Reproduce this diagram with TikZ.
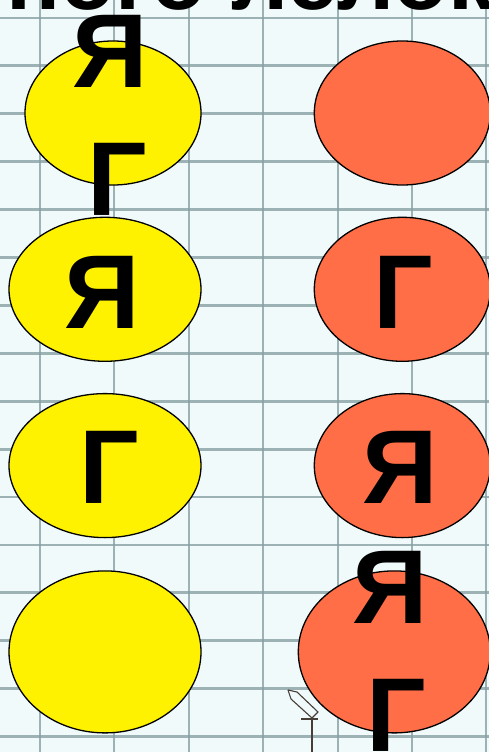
\documentclass[tikz,border=0pt]{standalone}
\usepackage{fontspec}
\setmainfont{Liberation Sans}
\usetikzlibrary{positioning, shapes.geometric}
\definecolor{paper}{RGB}{240,250,250}
\definecolor{gridblue}{RGB}{135,160,164}
\definecolor{coral}{RGB}{255,110,70}
\definecolor{cursorgray}{RGB}{70,62,55}
\tikzset{
    cards/.style={x=1pt, y=1pt},
    gridline/.style={gridblue, line width=2.8pt, opacity=0.8},
    blob/.style={draw, ellipse, line width=1.3pt, inner sep=0pt, minimum width=176pt, minimum height=144pt},
    yelblob/.style={blob, fill=yellow},
    redblob/.style={blob, fill=coral},
    bigblob/.style={minimum width=192pt, minimum height=162pt},
    % letters sit on their baseline at the given point
    glyph/.style={anchor=base, inner sep=0pt, font=\fontsize{105}{105}\selectfont\bfseries},
    headline/.style={anchor=base, inner sep=0pt, font=\fontsize{90}{90}\selectfont\bfseries},
}
\begin{document}
\begin{tikzpicture}[cards]
    \useasboundingbox (0,0) rectangle (489,-752);
    \clip (0,0) rectangle (489,-752);
    \fill[paper] (0,0) rectangle (489,-752);

    % squared paper
    \foreach \gx in {40,114,189,263,338,412,486}
        \draw[gridline] (\gx,0) -- (\gx,-752);
    \foreach \k in {0,...,15}
        \draw[gridline] (0,{-18-47.9*\k}) -- (489,{-18-47.9*\k});

    \node[headline] (title) at (250,-10) {ного лелок};

    \node[yelblob]                                   (yel1) at (113,-113) {};
    \node[yelblob, minimum width=192pt, below=31pt of yel1, xshift=-8pt] (yel2) {};
    \node[yelblob, minimum width=192pt, below=31pt of yel2] (yel3) {};
    \node[yelblob, bigblob, below=32pt of yel3]      (yel4) {};

    \node[redblob, right=112pt of yel1]          (red1) {};
    \node[redblob, right=112pt of yel2]          (red2) {};
    \node[redblob, right=112pt of yel3]          (red3) {};
    \node[redblob, bigblob, right=96pt of yel4]  (red4) {};

    \node[glyph] (yel1ya) at (110,-87)  {Я};
    \node[glyph] (yel1ge) at (117,-215) {Г};
    \node[glyph] (yel2ya) at (102,-328) {Я};
    \node[glyph] (yel3ge) at (109,-503) {Г};
    \node[glyph] (red2ge) at (403,-328) {Г};
    \node[glyph] (red3ya) at (400,-503) {Я};
    \node[glyph] (red4ya) at (390,-623) {Я};
    \node[glyph] (red4ge) at (396,-751) {Г};

    % pencil cursor
    \coordinate (tip) at (288,-690);
    \draw[cursorgray, line width=1.1pt, line join=round]
        (tip) -- (297,-692) -- (318,-712) -- (312,-718) -- (291,-699) -- cycle;
    \draw[cursorgray, line width=1.1pt] (301,-719) -- (318,-719);
    \draw[cursorgray, line width=1.6pt] (312,-719) -- (312,-752);
\end{tikzpicture}
\end{document}
